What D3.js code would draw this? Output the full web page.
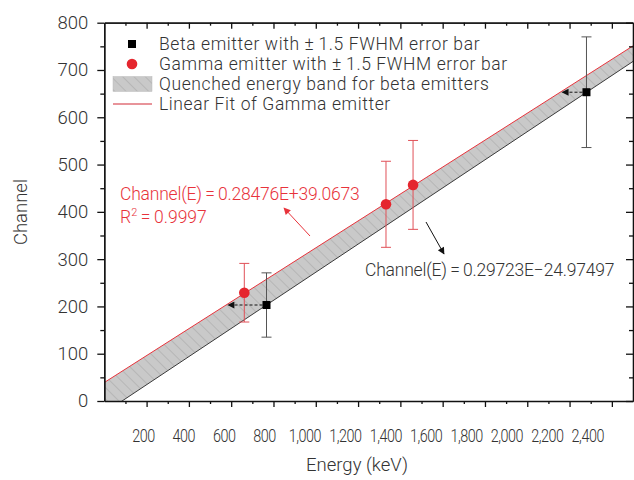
<!DOCTYPE html>
<html>
<head>
<meta charset="utf-8">
<script src="https://cdn.jsdelivr.net/npm/d3@7/dist/d3.min.js"></script>
<style>
  body { margin: 0; background: #fff; }
  text { font-family: Roboto, "Liberation Sans", sans-serif; font-weight: 300; fill: #333; }
</style>
</head>
<body>
<div id="chart"></div>
<script>
// values
var gammaEnergy = [662, 1332, 1460]
var gammaChannel = [229, 416, 457]
var gammaErr = [62, 91, 94]

var betaEnergy = [767, 2280]
var betaChannel = [203, 653]
var betaErr = [68, 117]

// [slope, intercept]
var gammaFit = [0.28476, 39.0673]
var betaFit = [0.29723, -24.97497]

var xMajor = d3.range(200, 2401, 200)
var xMinor = d3.range(100, 2500, 200)
var yMajor = d3.range(0, 801, 100)
var yMinor = d3.range(50, 800, 100)

var legendLabels = [
  "Beta emitter with \u00b1\u20091.5 FWHM error bar",
  "Gamma emitter with \u00b1\u20091.5 FWHM error bar",
  "Quenched energy band for beta emitters",
  "Linear Fit of Gamma emitter"
]

drawChart()

function drawChart() {

  var width = 634, height = 480
  var x0 = 104.3, x1 = 633, y0 = 401, y1 = 22.7

  var svg = d3.select("#chart").append("svg")
    .attr("width", width)
    .attr("height", height)

  var xScale = d3.scaleLinear().domain([0, 2500]).range([x0, x1])
  var yScale = d3.scaleLinear().domain([0, 800]).range([y0, y1])

  var red = "#e8333b"

  var defs = svg.append("defs")
  var pat = defs.append("pattern")
    .attr("id", "hatch")
    .attr("patternUnits", "userSpaceOnUse")
    .attr("width", 8).attr("height", 8)
    .attr("patternTransform", "rotate(-45)")
  pat.append("rect").attr("width", 8).attr("height", 8).attr("fill", "#c9c9c9")
  pat.append("line").attr("x1", 0).attr("y1", 0).attr("x2", 0).attr("y2", 8)
    .attr("stroke", "#a4a4a4").attr("stroke-width", 1)

  defs.append("clipPath").attr("id", "plotClip")
    .append("rect").attr("x", x0).attr("y", y1).attr("width", x1 - x0).attr("height", y0 - y1)

  defs.append("marker").attr("id", "headBlack")
    .attr("viewBox", "0 0 10 10").attr("refX", 9).attr("refY", 5)
    .attr("markerWidth", 9).attr("markerHeight", 7).attr("orient", "auto")
    .attr("markerUnits", "userSpaceOnUse")
    .append("path").attr("d", "M0,0L10,5L0,10z").attr("fill", "#111")
  defs.append("marker").attr("id", "headRed")
    .attr("viewBox", "0 0 10 10").attr("refX", 9).attr("refY", 5)
    .attr("markerWidth", 9).attr("markerHeight", 7).attr("orient", "auto")
    .attr("markerUnits", "userSpaceOnUse")
    .append("path").attr("d", "M0,0L10,5L0,10z").attr("fill", red)

  //////////////////////////// band + fits ////////////////////////////
  var eDomain = xScale.domain()
  var fitG = e => gammaFit[0] * e + gammaFit[1]
  var fitB = e => betaFit[0] * e + betaFit[1]

  var plot = svg.append("g").attr("clip-path", "url(#plotClip)")

  var band = d3.area()
    .x(d => xScale(d))
    .y0(d => yScale(fitB(d)))
    .y1(d => yScale(fitG(d)))
  plot.append("path").datum(eDomain)
    .attr("d", band)
    .attr("fill", "url(#hatch)")

  var lineB = d3.line().x(d => xScale(d)).y(d => yScale(fitB(d)))
  var lineG = d3.line().x(d => xScale(d)).y(d => yScale(fitG(d)))
  plot.append("path").datum(eDomain).attr("d", lineB)
    .attr("fill", "none").attr("stroke", "#3a3a3a").attr("stroke-width", 1)
  plot.append("path").datum(eDomain).attr("d", lineG)
    .attr("fill", "none").attr("stroke", red).attr("stroke-width", 1)

  //////////////////////////// axes ////////////////////////////
  var axes = svg.append("g").attr("class", "axes")

  function styleAxis(sel) {
    sel.select(".domain").attr("stroke", "#111").attr("stroke-width", 1.3)
    sel.selectAll(".tick line").attr("stroke", "#111").attr("stroke-width", 1.3)
  }

  // bottom
  axes.append("g").attr("transform", "translate(0," + y0 + ")")
    .call(d3.axisBottom(xScale).tickValues(xMinor).tickSize(3).tickFormat("").tickSizeOuter(0))
    .call(styleAxis)
  var xAx = axes.append("g").attr("transform", "translate(0," + y0 + ")")
    .call(d3.axisBottom(xScale).tickValues(xMajor).tickSize(6).tickSizeOuter(0)
      .tickFormat(d3.format(",")).tickPadding(22))
    .call(styleAxis)
  xAx.select(".domain").remove()
  // narrow labels that drift left of their ticks, as in the figure
  xAx.selectAll(".tick text")
    .attr("font-size", 18)
    .attr("letter-spacing", -0.6)
    .attr("font-family", "Roboto, 'Liberation Sans', sans-serif")
    .attr("fill", "#333")
    .attr("transform", d => "translate(" + (-(1.8 + d * 0.0095)) + ",0) scale(0.8,1)")

  // top (ticks inward)
  axes.append("g").attr("transform", "translate(0," + y1 + ")")
    .call(d3.axisTop(xScale).tickValues(xMinor).tickSize(-3).tickFormat("").tickSizeOuter(0))
    .call(styleAxis)
  axes.append("g").attr("transform", "translate(0," + y1 + ")")
    .call(d3.axisTop(xScale).tickValues(xMajor).tickSize(-6).tickFormat("").tickSizeOuter(0))
    .call(styleAxis)

  // left
  axes.append("g").attr("transform", "translate(" + x0 + ",0)")
    .call(d3.axisLeft(yScale).tickValues(yMinor).tickSize(4).tickFormat("").tickSizeOuter(0))
    .call(styleAxis)
  var yAx = axes.append("g").attr("transform", "translate(" + x0 + ",0)")
    .call(d3.axisLeft(yScale).tickValues(yMajor).tickSize(7).tickPadding(9).tickSizeOuter(0))
    .call(styleAxis)
  yAx.selectAll(".tick text")
    .attr("font-size", 18.5)
    .attr("font-family", "Roboto, 'Liberation Sans', sans-serif")
    .attr("fill", "#333")

  // right (ticks inward)
  axes.append("g").attr("transform", "translate(" + x1 + ",0)")
    .call(d3.axisRight(yScale).tickValues(yMinor).tickSize(-4).tickFormat("").tickSizeOuter(0))
    .call(styleAxis)
  axes.append("g").attr("transform", "translate(" + x1 + ",0)")
    .call(d3.axisRight(yScale).tickValues(yMajor).tickSize(-7).tickFormat("").tickSizeOuter(0))
    .call(styleAxis)

  svg.append("text")
    .attr("x", 357).attr("y", 471)
    .attr("text-anchor", "middle")
    .attr("font-size", 18.5)
    .text("Energy (keV)")

  svg.append("text")
    .attr("transform", "translate(27,212) rotate(-90)")
    .attr("text-anchor", "middle")
    .attr("font-size", 18.5)
    .text("Channel")

  //////////////////////////// beta points ////////////////////////////
  var beta = betaEnergy.map((e, i) => ({e: e, c: betaChannel[i], err: betaErr[i]}))
  var gamma = gammaEnergy.map((e, i) => ({e: e, c: gammaChannel[i], err: gammaErr[i]}))

  // dashed arrows to the gamma fit at the same channel
  svg.selectAll(".betaArrow").data(beta).enter().append("line")
    .attr("x1", d => xScale(d.e) - 4)
    .attr("x2", d => xScale((d.c - gammaFit[1]) / gammaFit[0]) + 2)
    .attr("y1", d => yScale(d.c)).attr("y2", d => yScale(d.c))
    .attr("stroke", "#111").attr("stroke-width", 1)
    .attr("stroke-dasharray", "3,2")
    .attr("marker-end", "url(#headBlack)")

  function errorBars(data, color, cls) {
    var g = svg.append("g").attr("class", cls)
    g.selectAll("line.v").data(data).enter().append("line")
      .attr("x1", d => xScale(d.e)).attr("x2", d => xScale(d.e))
      .attr("y1", d => yScale(d.c - d.err)).attr("y2", d => yScale(d.c + d.err))
      .attr("stroke", color).attr("stroke-width", 1)
    g.selectAll("line.top").data(data).enter().append("line")
      .attr("x1", d => xScale(d.e) - 5).attr("x2", d => xScale(d.e) + 5)
      .attr("y1", d => yScale(d.c + d.err)).attr("y2", d => yScale(d.c + d.err))
      .attr("stroke", color).attr("stroke-width", 1)
    g.selectAll("line.bot").data(data).enter().append("line")
      .attr("x1", d => xScale(d.e) - 5).attr("x2", d => xScale(d.e) + 5)
      .attr("y1", d => yScale(d.c - d.err)).attr("y2", d => yScale(d.c - d.err))
      .attr("stroke", color).attr("stroke-width", 1)
  }

  errorBars(beta, "#555", "betaErr")
  errorBars(gamma, "#e05058", "gammaErr")

  svg.selectAll(".betaPt").data(beta).enter().append("rect")
    .attr("x", d => xScale(d.e) - 4).attr("y", d => yScale(d.c) - 4)
    .attr("width", 8).attr("height", 8)
    .attr("fill", "#000")

  svg.selectAll(".gammaPt").data(gamma).enter().append("circle")
    .attr("cx", d => xScale(d.e)).attr("cy", d => yScale(d.c))
    .attr("r", 5.3)
    .attr("fill", "#e5262e")

  //////////////////////////// annotations ////////////////////////////
  svg.append("text").attr("x", 120).attr("y", 200)
    .attr("font-size", 17.5).attr("letter-spacing", -0.2).style("fill", red)
    .text("Channel(E)\u2009=\u20090.28476E+39.0673")
  var r2 = svg.append("text").attr("x", 120).attr("y", 223)
    .attr("font-size", 17.5).style("fill", red)
  r2.append("tspan").text("R")
  r2.append("tspan").attr("dy", -7).attr("font-size", 11).text("2")
  r2.append("tspan").attr("dy", 7).text("\u2009=\u20090.9997")

  svg.append("line")
    .attr("x1", 310).attr("y1", 236).attr("x2", 284).attr("y2", 208)
    .attr("stroke", red).attr("stroke-width", 1)
    .attr("marker-end", "url(#headRed)")

  svg.append("line")
    .attr("x1", 426).attr("y1", 222).attr("x2", 444).attr("y2", 254)
    .attr("stroke", "#111").attr("stroke-width", 1)
    .attr("marker-end", "url(#headBlack)")

  svg.append("text").attr("x", 365).attr("y", 276)
    .attr("font-size", 17.5).attr("letter-spacing", -0.2)
    .text("Channel(E)\u2009=\u20090.29723E\u221224.97497")

  //////////////////////////// legend ////////////////////////////
  var leg = svg.append("g").attr("class", "legend")
  var rowY = [44, 64, 84, 104]
  leg.selectAll("text").data(legendLabels).enter().append("text")
    .attr("x", 159).attr("y", (d, i) => rowY[i] + 6)
    .attr("font-size", 17.5)
    .attr("letter-spacing", 0.6)
    .text(d => d)

  leg.append("rect").attr("x", 128).attr("y", rowY[0] - 4).attr("width", 8).attr("height", 8).attr("fill", "#000")
  leg.append("circle").attr("cx", 132).attr("cy", rowY[1]).attr("r", 5.3).attr("fill", "#e5262e")
  leg.append("rect").attr("x", 113).attr("y", rowY[2] - 7.5).attr("width", 39).attr("height", 15)
    .attr("fill", "url(#hatch)").attr("stroke", "#bbb").attr("stroke-width", 0.5)
  leg.append("line").attr("x1", 113).attr("x2", 152).attr("y1", rowY[3]).attr("y2", rowY[3])
    .attr("stroke", "#e07078").attr("stroke-width", 1.5)
}
</script>
</body>
</html>
